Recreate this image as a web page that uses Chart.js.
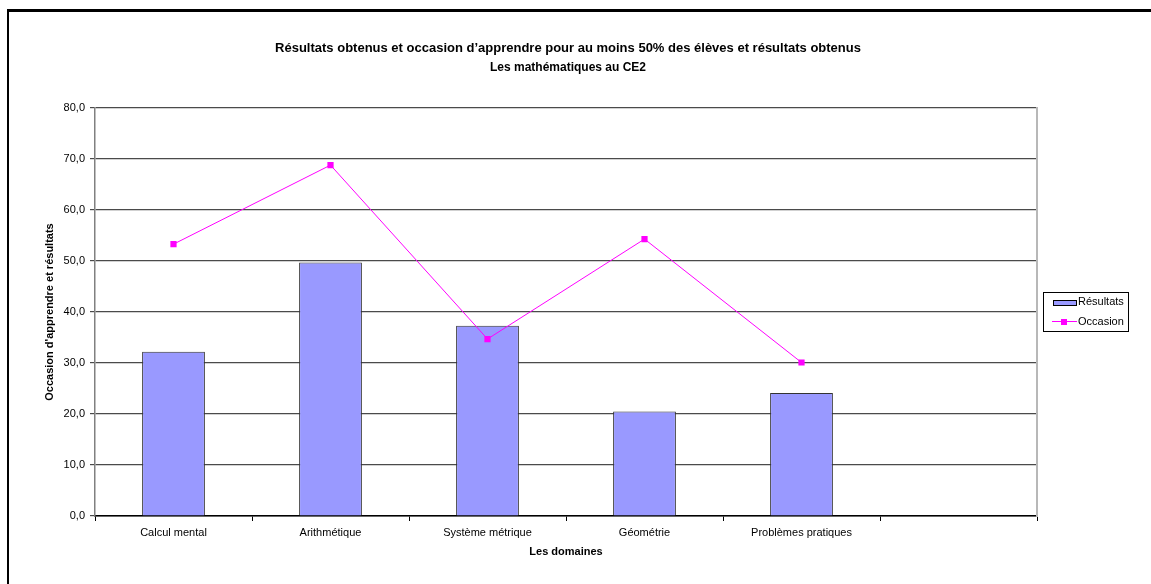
<!DOCTYPE html>
<html lang="fr">
<head>
<meta charset="utf-8">
<title>Les mathématiques au CE2</title>
<script src="https://cdn.jsdelivr.net/npm/chart.js@4"></script>
<style>
  html, body { margin: 0; padding: 0; background: #fff; }
  #wrap { position: relative; width: 1151px; height: 584px; overflow: hidden; }
  #frame { position: absolute; left: 7px; top: 9px; width: 1200px; height: 600px;
           border-left: 2px solid #000; border-top: 3px solid #000; pointer-events: none; }
  canvas { display: block; }
</style>
</head>
<body>
<div id="wrap">
  <canvas id="myChart" width="1151" height="584"></canvas>
  <div id="frame"></div>
</div>
<script>
// domaines (the last slot stays empty)
const domaines = ['Calcul mental', 'Arithmétique', 'Système métrique', 'Géométrie', 'Problèmes pratiques', ''];
const resultats = [32.2, 49.7, 37.3, 20.5, 24.1, null];
const occasion = [53.3, 68.8, 34.7, 54.3, 30.1, null];
const yTicks = [0, 10, 20, 30, 40, 50, 60, 70, 80];

const FONT = "'Liberation Sans', Arial, sans-serif";

// legend box drawn on the right, outside the plot
const boxLegend = {
  id: 'boxLegend',
  afterDraw(chart) {
    const ctx = chart.ctx;
    const x = 1043, y = 292, w = 85, h = 39;
    const bars = chart.data.datasets.find(d => d.type === 'bar');
    const line = chart.data.datasets.find(d => d.type === 'line');
    ctx.save();
    ctx.strokeStyle = '#000';
    ctx.lineWidth = 1;
    ctx.strokeRect(x + 0.5, y + 0.5, w, h);

    ctx.font = '11px ' + FONT;
    ctx.textBaseline = 'middle';

    // bar swatch
    ctx.fillStyle = bars.backgroundColor;
    ctx.fillRect(x + 10, y + 8, 23, 5);
    ctx.strokeStyle = '#000';
    ctx.strokeRect(x + 10.5, y + 8.5, 23, 5);
    ctx.fillStyle = '#000';
    ctx.fillText(bars.label, x + 35, y + 10);

    // line swatch
    ctx.strokeStyle = line.borderColor;
    ctx.beginPath();
    ctx.moveTo(x + 9, y + 29.5);
    ctx.lineTo(x + 34, y + 29.5);
    ctx.stroke();
    ctx.fillStyle = line.pointBackgroundColor;
    ctx.fillRect(x + 18, y + 27, 6, 6);
    ctx.fillStyle = '#000';
    ctx.fillText(line.label, x + 35, y + 30);
    ctx.restore();
  }
};

const ctx = document.getElementById('myChart').getContext('2d');

const chart = new Chart(ctx, {
  type: 'bar',
  data: {
    labels: domaines,
    datasets: [{
      type: 'line',
      label: 'Occasion',
      data: occasion,
      borderColor: '#ff00ff',
      backgroundColor: '#ff00ff',
      borderWidth: 1,
      pointStyle: 'rect',
      pointRadius: 4.4,
      pointBorderWidth: 0,
      pointBackgroundColor: '#ff00ff',
      tension: 0,
      order: 0
    }, {
      type: 'bar',
      label: 'Résultats',
      data: resultats,
      backgroundColor: '#9999ff',
      borderColor: '#333333',
      borderWidth: 1,
      categoryPercentage: 0.4,
      barPercentage: 1,
      order: 1
    }]
  },
  options: {
    responsive: false,
    animation: false,
    layout: { padding: { left: 0, right: 15, top: 0, bottom: 0 } },
    plugins: {
      legend: { display: false },
      tooltip: { enabled: false },
      title: {
        display: true,
        text: 'Résultats obtenus et occasion d’apprendre pour au moins 50% des élèves et résultats obtenus',
        color: '#000',
        font: { family: FONT, size: 13, weight: 'bold', lineHeight: 1.2 },
        padding: { top: 41, bottom: 0 }
      },
      subtitle: {
        display: true,
        text: 'Les mathématiques au CE2',
        color: '#000',
        font: { family: FONT, size: 12, weight: 'bold', lineHeight: 1.2 },
        padding: { top: 4.2, bottom: 32.8 }
      }
    },
    scales: {
      x: {
        offset: true,
        grid: { offset: true, drawOnChartArea: false, drawTicks: true, tickLength: 5, color: '#000' },
        border: { color: '#000', width: 1.5 },
        ticks: { color: '#000', font: { family: FONT, size: 11 }, padding: 5, maxRotation: 0, autoSkip: false },
        title: {
          display: true,
          text: 'Les domaines',
          color: '#000',
          font: { family: FONT, size: 11, weight: 'bold' },
          padding: { top: 0, bottom: 25 }
        },
        afterFit(scale) { scale.height = 68; }
      },
      y: {
        min: 0,
        max: 80,
        afterBuildTicks(scale) { scale.ticks = yTicks.map(v => ({ value: v })); },
        grid: { color: '#4a4a4a', lineWidth: 1.2, tickLength: 5, drawTicks: true },
        border: { color: '#808080', width: 1.5 },
        ticks: {
          color: '#000',
          font: { family: FONT, size: 11 },
          padding: 5,
          callback: v => v.toFixed(1).replace('.', ',')
        },
        title: {
          display: true,
          text: "Occasion d'apprendre et résultats",
          color: '#000',
          font: { family: FONT, size: 11, weight: 'bold' },
          padding: { top: 43, bottom: 0 }
        },
        afterFit(scale) { scale.width = 95; }
      },
      // empty right-hand axis: holds the legend column and draws the grey plot edge
      yRight: {
        position: 'right',
        min: 0,
        max: 80,
        grid: { drawOnChartArea: false, drawTicks: false },
        border: { color: '#b8b8b8', width: 2 },
        ticks: { display: false },
        afterFit(scale) { scale.width = 99; }
      }
    }
  },
  plugins: [boxLegend]
});
</script>
</body>
</html>
